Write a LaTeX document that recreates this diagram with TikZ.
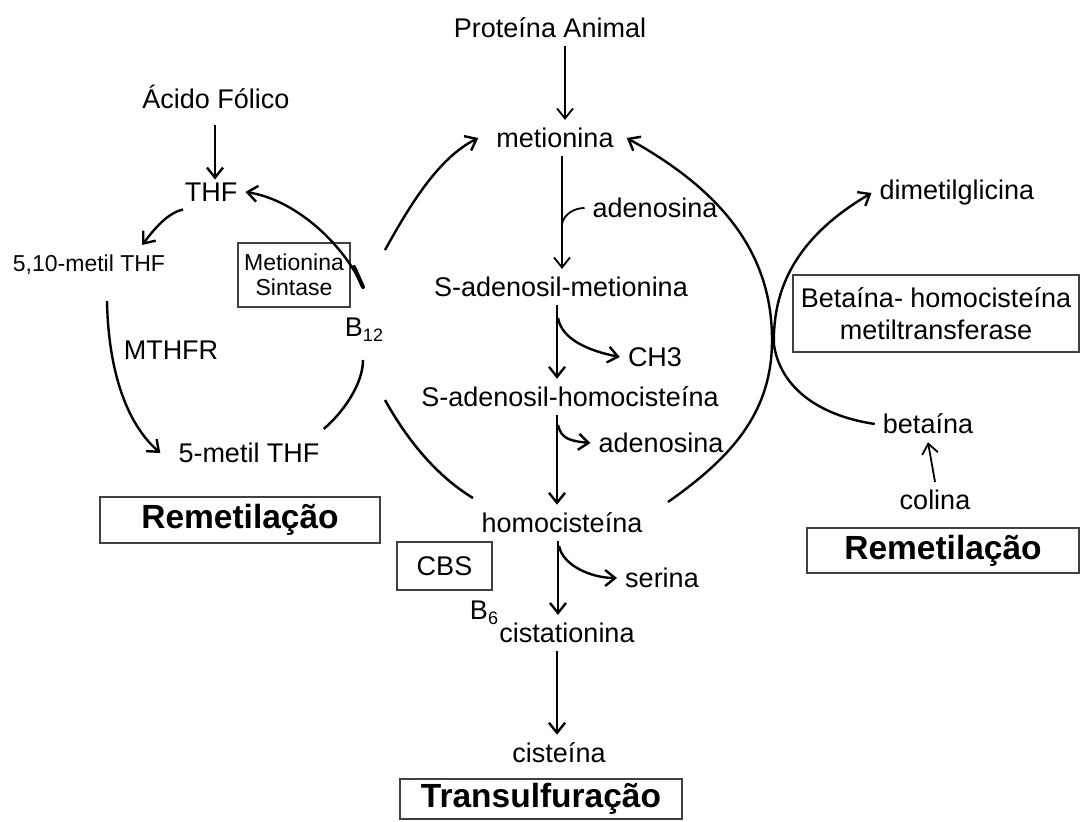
\documentclass[tikz,border=0pt]{standalone}
\usepackage{fontspec}
\setmainfont{Liberation Sans}
\usetikzlibrary{arrows.meta,calc}
\begin{document}
\begin{tikzpicture}[x=1pt,y=-1pt,
  lbl/.style={inner sep=8pt, font=\fontsize{27}{31}\selectfont},
  sml/.style={font=\fontsize{23}{25}\selectfont},
  boxed/.style={draw=black!75, line width=1.3pt, inner sep=0pt},
  big/.style={font=\fontsize{33.5}{38}\selectfont\bfseries},
  arr/.style={-{Straight Barb[length=10pt,width=16pt]}, line width=2.4pt},
  thin arr/.style={-{Straight Barb[length=10pt,width=16pt]}, line width=1.8pt},
  curve/.style={line width=2.5pt},
]
\useasboundingbox (0,0) rectangle (1083,821);

% central column
\node[lbl] (pa)   at (550,28)  {Proteína Animal};
\node[lbl] (met)  at (555,138) {metionina};
\node[lbl] (sam)  at (561,287) {S-adenosil-metionina};
\node[lbl] (sah)  at (570,397) {S-adenosil-homocisteína};
\node[lbl] (hcy)  at (562,523) {homocisteína};
\node[lbl] (cist) at (567,633) {cistationina};
\node[lbl] (cys)  at (559,753) {cisteína};
\node[boxed, big, minimum width=282, minimum height=40] (trans) at (541,799) {Transulfuração};

\node[lbl] (ado1) at (655,208) {adenosina};
\node[lbl] (ch3)  at (655,357) {CH3};
\node[lbl] (ado2) at (661,443) {adenosina};
\node[lbl] (ser)  at (662,578) {serina};
\node[lbl] (b6)   at (484,613) {B\raisebox{-0.35ex}{\fontsize{18}{18}\selectfont 6}};
\node[boxed, lbl, inner sep=0pt, minimum width=95, minimum height=48] (cbs) at (444.5,566) {CBS};

% left cycle
\node[lbl] (af)   at (216,97)  {Ácido Fólico};
\node[lbl] (thf)  at (211,192) {THF};
\node[sml, inner sep=6pt] (f510) at (89,265) {5,10-metil THF};
\node[lbl] (mthfr) at (171,350) {MTHFR};
\node[lbl] (m5)   at (249,453) {5-metil THF};
\node[boxed, sml, align=center, minimum width=112, minimum height=64] (ms) at (294,275) {Metionina\\Sintase};
\node[lbl] (b12)  at (364,330) {B\raisebox{-0.35ex}{\fontsize{18}{18}\selectfont 12}};
\node[boxed, big, minimum width=280, minimum height=46] (rem1) at (240,520) {Remetilação};

% right side
\node[lbl] (dmg)  at (957,193) {dimetilglicina};
\node[boxed, lbl, align=center, inner sep=0pt, minimum width=286, minimum height=77] (bhmt) at (936,313.5) {Betaína- homocisteína\\[1pt]metiltransferase};
\node[lbl] (bet)  at (928,424) {betaína};
\node[lbl] (col)  at (935,500) {colina};
\node[boxed, big, minimum width=272, minimum height=45] (rem2) at (943,550.5) {Remetilação};

% junction coordinates
\coordinate (j1) at (562,224);
\coordinate (j2) at (558,318);
\coordinate (j3) at (558,425);
\coordinate (j4) at (559,546);
\coordinate (bA) at (385,250);
\coordinate (bB) at (363,287);
\coordinate (bC) at (363,360);
\coordinate (bD) at (385,400);
\coordinate (hL) at (473,498);
\coordinate (hR) at (668,502);
\coordinate (cusp) at (774,345);

% central arrows
\draw[thin arr] ([xshift=15pt]pa.south) -- ([xshift=10pt]met.north);
\draw[thin arr] ([xshift=7pt]met.south) -- ([xshift=1pt]sam.north);
\draw[arr] ([xshift=-4pt]sam.south) -- ([xshift=-13pt]sah.north);
\draw[arr] ([xshift=-13pt]sah.south) -- ([xshift=-5pt]hcy.north);
\draw[arr] ([xshift=-4pt]hcy.south) -- ([xshift=-9pt]cist.north);
\draw[arr] ([xshift=-10pt]cist.south) -- ([xshift=-2pt]cys.north);

\draw[line width=1.8pt] (j1) .. controls +(2,-10) and +(-10,0) .. (ado1.west);
\draw[arr] (j2) .. controls +(4,22) and +(-30,-6) .. (ch3.west);
\draw[arr] (j3) .. controls +(3,14) and +(-20,-2) .. (ado2.west);
\draw[arr] (j4) .. controls +(4,20) and +(-25,0) .. (ser.west);

% left cycle arrows
\draw[arr, shorten <=8pt, shorten >=-5pt] ([xshift=-1pt]af.south) -- ([xshift=4pt]thf.north);
\draw[arr] ([xshift=-28pt]thf.south) .. controls +(-18,4) and +(8,-10) .. ([xshift=53pt,yshift=4pt]f510.north);
\draw[arr] ([xshift=18pt,yshift=-20pt]f510.south) .. controls +(1,55) and +(-40,-35) .. ([xshift=-10pt]m5.west);
\draw[curve] ([xshift=-4pt,yshift=6pt]m5.north east) .. controls +(18,-15) and +(0,25) .. (bC);
\draw[arr] (bB) .. controls +(-22,-47) and +(47,7) .. (thf.east);
\draw[line width=4pt, line cap=round] (bB) -- ++(-9,-20);
\draw[arr] (bA) .. controls +(25,-45) and +(-40,20) .. ([xshift=-10pt]met.west);
\draw[curve] (bD) .. controls +(25,45) and +(-33,-20) .. (hL);

% right arrows
\draw[arr] (hR) .. controls (735,455) and (772,410) .. (772,340)
           .. controls (772,260) and (730,195) .. ([xshift=5pt]met.east);
\draw[arr] (bet.west) .. controls (815,415) and (780,385) .. (cusp)
           .. controls (772,280) and (805,232) .. (dmg.west);
\draw[thin arr] (col.north) -- (bet.south);

\end{tikzpicture}
\end{document}
